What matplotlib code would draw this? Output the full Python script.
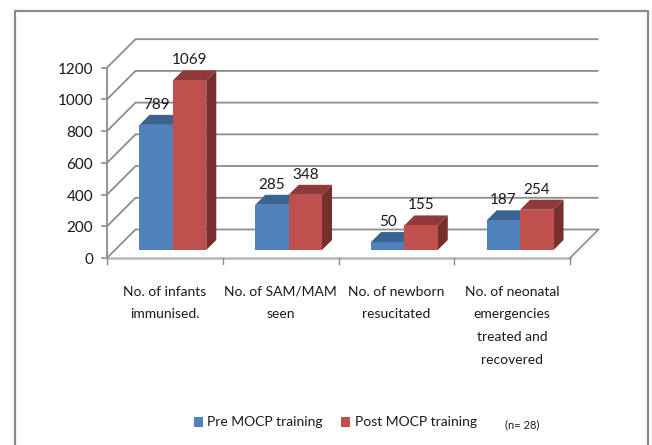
import matplotlib
matplotlib.use("Agg")
import matplotlib.pyplot as plt
from matplotlib.patches import Polygon

categories = ["No. of infants\nimmunised.", "No. of SAM/MAM\nseen", "No. of newborn\nresucitated",
              "No. of neonatal\nemergencies\ntreated and\nrecovered"]
pre_values = [789, 285, 50, 187]
post_values = [1069, 348, 155, 254]
y_ticks = [0, 200, 400, 600, 800, 1000, 1200]
series_names = ["Pre MOCP training", "Post MOCP training"]

W, H = 652, 445
# pixel positions of the front floor
X0, X4 = 107, 570
Y0, Y1200 = 258, 67.7
px_x = (X4 - X0) / 4
px_y = (Y0 - Y1200) / 1200
WALL = 28.5      # depth of the back wall in px
SHIFT = 8        # bars stand a little behind the front edge
DEPTH = 10       # bar depth in px
BAR_W = 33.4 / px_x

plt.rcParams["font.family"] = ["Lato", "DejaVu Sans"]
text_col = "#1a1a1a"
grid_col = "#8c8c8c"

fig = plt.figure(figsize=(W / 100, H / 100), dpi=100)
ax = fig.add_axes([0, 0, 1, 1])
ax.set_xlim(-X0 / px_x, (W - X0) / px_x)
ax.set_ylim((Y0 - H) / px_y, Y0 / px_y)
ax.axis("off")


def px(x, y):
    # image pixel to data position
    return (x - X0) / px_x, (Y0 - y) / px_y


def off(x, y, d):
    # move a point d pixels back into the chart
    return x + d / px_x, y + d / px_y


# frame round the chart, open at the bottom of the image
ax.plot(*zip(px(14.5, 460), px(14.5, 11), px(648, 11), px(648, 460)), color="#8a8a8a", lw=1.6)

# walls and gridlines
for v in y_ticks:
    bx, by = off(0, v, WALL)
    ax.plot([0, bx, off(4, v, WALL)[0]], [v, by, by], color=grid_col, lw=1.3, zorder=1,
            solid_capstyle="butt")
    ax.plot([-5 / px_x, 0], [v, v], color=grid_col, lw=1.2, zorder=1)
    ax.text(px(93, 0)[0], v - 2 / px_y, str(v), ha="right", va="center", fontsize=11, color=text_col)

ax.plot([0, 0], [0, 1200], color=grid_col, lw=1.3, zorder=1)
ax.plot([0, 4], [0, 0], color="#b5b5b5", lw=1.8, zorder=1)
ax.plot([4, off(4, 0, WALL)[0]], [0, off(4, 0, WALL)[1]], color=grid_col, lw=1.2, zorder=1)
for i in range(5):
    ax.plot([i, i], [0, -6 / px_y], color=grid_col, lw=1.0, zorder=1)


def bar3d(left, val, front, top, side, z):
    x0, y0 = off(left, 0, SHIFT)
    x1 = x0 + BAR_W
    y1 = y0 + val
    dx, dy = DEPTH / px_x, DEPTH / px_y
    ax.add_patch(Polygon([(x1, y0), (x1 + dx, y0 + dy), (x1 + dx, y1 + dy), (x1, y1)], fc=side, ec="none", zorder=z))
    ax.add_patch(Polygon([(x0, y1), (x1, y1), (x1 + dx, y1 + dy), (x0 + dx, y1 + dy)], fc=top, ec="none", zorder=z))
    ax.add_patch(Polygon([(x0, y0), (x1, y0), (x1, y1), (x0, y1)], fc=front, ec="none", zorder=z + 0.1))
    return x0, y1


for i in range(4):
    x_a, top_a = bar3d(i + 0.5 - BAR_W, pre_values[i], "#4f81bd", "#3b6391", "#2f4f75", 2 + i)
    x_b, top_b = bar3d(i + 0.5, post_values[i], "#c0504d", "#8f3a38", "#772f2d", 2.5 + i)
    ax.text(x_a + BAR_W / 2, top_a + 20 / px_y, str(pre_values[i]), ha="center", va="center",
            fontsize=11, color=text_col, zorder=10)
    ax.text(x_b + BAR_W / 2, top_b + 20 / px_y, str(post_values[i]), ha="center", va="center",
            fontsize=11, color=text_col, zorder=10)
    ax.text(i + 0.5, px(0, 286)[1], categories[i], ha="center", va="top", fontsize=10,
            color=text_col, linespacing=2.05)

# legend, placed by hand like the original
ax.add_patch(plt.Rectangle(px(194, 427), 9 / px_x, 10 / px_y, fc="#4f81bd", ec="none"))
ax.text(*px(207, 422), series_names[0], ha="left", va="center", fontsize=10, color=text_col)
ax.add_patch(plt.Rectangle(px(341, 427), 9 / px_x, 10 / px_y, fc="#c0504d", ec="none"))
ax.text(*px(355, 422), series_names[1], ha="left", va="center", fontsize=10, color=text_col)
ax.text(*px(505, 425), "(n= 28)", ha="left", va="center", fontsize=8, color=text_col)

fig.savefig("out.png", dpi=100)
